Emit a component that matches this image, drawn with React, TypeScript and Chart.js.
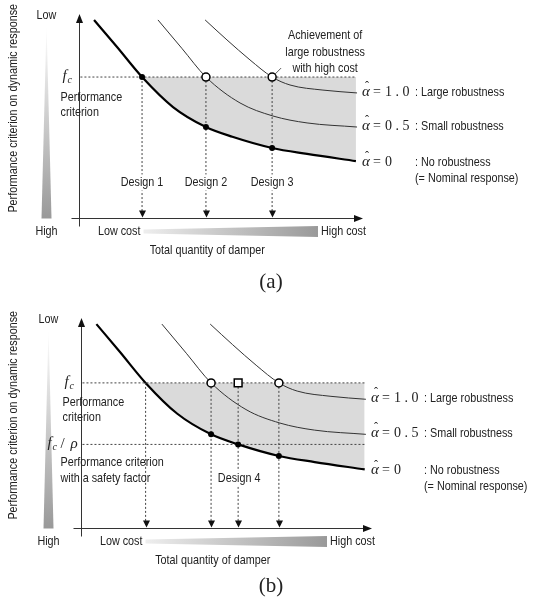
import React, { useEffect, useRef } from "react";
import { Chart, registerables } from "chart.js";
Chart.register(...registerables);

// x = total quantity of damper (relative 0–100), y = level on the response axis (relative 0–100)
const NOMINAL_X = [5.3, 13.4, 22.2, 33.1, 44.7, 54.0, 68.0, 80.3, 97.5];
const NOMINAL_Y = [97.1, 83.8, 69.1, 54.4, 44.6, 39.8, 34.3, 31.4, 27.9];
const SMALL_X = [27.8, 36.2, 44.7, 56.7, 68.3, 80.3, 97.9];
const SMALL_Y = [97.1, 83.2, 69.1, 56.4, 50.0, 46.6, 44.6];
const LARGE_X = [44.4, 52.1, 60.2, 68.0, 74.3, 85.9, 97.9];
const LARGE_Y = [97.1, 87.3, 77.5, 69.1, 65.2, 62.7, 61.3];
const FC = 69.1;
const FC_RHO = 39.8;
const CURVE_END = 97.5;

const DESIGN_A_X = [22.2, 44.7, 68.0];
const DESIGN_A_LABELS = ["Design 1", "Design 2", "Design 3"];
const FILLED_A_X = [22.2, 44.7, 68.0];
const FILLED_A_Y = [69.1, 44.6, 34.3];
const OPEN_A_X = [44.7, 68.0];

const ARROWS_B_X = [22.2, 44.7, 54.0, 68.0];
const FILLED_B_X = [44.7, 54.0, 68.0];
const FILLED_B_Y = [44.6, 39.8, 34.3];
const OPEN_B_X = [44.7, 68.0];
const SQUARE_B_X = [54.0];
const DESIGN_B_X = 54.0;
const DESIGN_B_LABEL = "Design 4";

const ALPHA_VALUES = ["1 . 0", "0 . 5", "0"];
const ALPHA_TEXTS = [": Large robustness", ": Small robustness", ": No robustness"];

const SANS = '"Liberation Sans", Arial, sans-serif';
const SERIF = '"Liberation Serif", "Times New Roman", serif';
const SX = 0.83;
const INK = "#222";

const PANELS: any = {
  a: { height: 300, padding: { left: 79, right: 173, top: 14, bottom: 82 }, caption: "(a)" },
  b: { height: 304, padding: { left: 81, right: 164, top: 18, bottom: 76 }, caption: "(b)" },
};

function text(
  ctx: CanvasRenderingContext2D,
  s: string,
  x: number,
  y: number,
  align: "left" | "center" | "right" = "left",
  font = `13px ${SANS}`,
  sx = SX,
  bg = false
) {
  ctx.save();
  ctx.font = font;
  ctx.textBaseline = "middle";
  ctx.textAlign = "left";
  const w = ctx.measureText(s).width * sx;
  const left = align === "left" ? x : align === "center" ? x - w / 2 : x - w;
  if (bg) {
    ctx.fillStyle = "#fff";
    ctx.fillRect(left - 1, y - 8, w + 2, 16);
  }
  ctx.translate(left, y);
  ctx.scale(sx, 1);
  ctx.fillStyle = INK;
  ctx.fillText(s, 0, 0);
  ctx.restore();
  return w;
}

function tri(ctx: CanvasRenderingContext2D, pts: number[][]) {
  ctx.beginPath();
  ctx.moveTo(pts[0][0], pts[0][1]);
  for (let i = 1; i < pts.length; i++) ctx.lineTo(pts[i][0], pts[i][1]);
  ctx.closePath();
  ctx.fill();
}

function fcLabel(ctx: CanvasRenderingContext2D, x: number, y: number) {
  ctx.save();
  ctx.fillStyle = INK;
  ctx.textBaseline = "middle";
  ctx.font = `italic 15px ${SERIF}`;
  ctx.fillText("f", x, y - 1);
  ctx.font = `italic 10px ${SERIF}`;
  ctx.fillText("c", x + 5, y + 3);
  ctx.restore();
}

function alphaLabel(ctx: CanvasRenderingContext2D, x: number, y: number, v: string) {
  ctx.save();
  ctx.fillStyle = INK;
  ctx.textBaseline = "middle";
  ctx.font = `italic 15px ${SERIF}`;
  ctx.fillText("\u03B1", x, y);
  const aw = ctx.measureText("\u03B1").width;
  ctx.font = `12px ${SERIF}`;
  ctx.textAlign = "center";
  ctx.fillText("\u02C6", x + aw / 2 + 1, y - 5);
  ctx.textAlign = "left";
  ctx.font = `14px ${SERIF}`;
  ctx.fillText("=", x + 11, y);
  ctx.fillText(v, x + 23, y);
  ctx.restore();
}

function makeAnnotations(kind: "a" | "b") {
  return {
    id: "annot_" + kind,
    afterDraw(chart: any) {
      const ctx: CanvasRenderingContext2D = chart.ctx;
      const xs = chart.scales.x;
      const ys = chart.scales.y;
      const X = (v: number) => xs.getPixelForValue(v);
      const Y = (v: number) => ys.getPixelForValue(v);
      const x0 = Math.round(X(0)) + 0.5;
      const xr = X(100);
      const yb = Math.round(Y(0)) + 0.5;
      const yt = Y(100);
      const W = chart.width;
      const H = chart.height;

      ctx.save();
      // axes
      ctx.strokeStyle = "#333";
      ctx.lineWidth = 1;
      ctx.beginPath();
      ctx.moveTo(x0, yb + 8);
      ctx.lineTo(x0, yt + 4);
      ctx.moveTo(x0 - 8, yb);
      ctx.lineTo(xr - 4, yb);
      ctx.stroke();
      ctx.fillStyle = "#111";
      tri(ctx, [[x0, yt], [x0 - 3.5, yt + 9], [x0 + 3.5, yt + 9]]);
      tri(ctx, [[xr, yb], [xr - 9, yb - 3.5], [xr - 9, yb + 3.5]]);

      // arrowheads of design lines
      const arrows = kind === "a" ? DESIGN_A_X : ARROWS_B_X;
      arrows.forEach((d) => {
        const px = Math.round(X(d)) + 0.5;
        tri(ctx, [[px, yb - 1], [px - 3.5, yb - 8], [px + 3.5, yb - 8]]);
      });

      // left wedge
      const wx = x0 - 33;
      const g = ctx.createLinearGradient(0, yt + 10, 0, yb);
      g.addColorStop(0, "#ffffff");
      g.addColorStop(1, "#999999");
      ctx.fillStyle = g;
      tri(ctx, [[wx, yt + 10], [wx + 5, yb], [wx - 5, yb]]);
      text(ctx, "Low", wx, yt + 1, "center");
      text(ctx, "High", wx, yb + 13, "center");

      // rotated axis title
      ctx.save();
      ctx.translate(13, (yt + yb) / 2 - 8);
      ctx.rotate(-Math.PI / 2);
      text(ctx, "Performance criterion on dynamic response", 0, 0, "center");
      ctx.restore();

      // bottom cost wedge
      const bl = x0 + 64;
      const br = xr - 45;
      const bc = yb + 13;
      const hg = ctx.createLinearGradient(bl, 0, br, 0);
      hg.addColorStop(0, "#eeeeee");
      hg.addColorStop(1, "#999999");
      ctx.fillStyle = hg;
      tri(ctx, [[bl, bc - 2], [br, bc - 5.5], [br, bc + 5.5], [bl, bc + 2]]);
      text(ctx, "Low cost", bl - 3, bc, "right");
      text(ctx, "High cost", br + 3, bc, "left");
      text(ctx, "Total quantity of damper", (x0 + xr) / 2 - 14, yb + 32, "center");

      // caption
      text(ctx, PANELS[kind].caption, W / 2 + 3, H - 18, "center", `21px ${SERIF}`, 1);

      // right-hand labels
      const ends = [LARGE_Y[LARGE_Y.length - 1], SMALL_Y[SMALL_Y.length - 1], NOMINAL_Y[NOMINAL_Y.length - 1]];
      ends.forEach((e, i) => {
        const py = Y(e) + (i === 2 ? 1 : -1);
        alphaLabel(ctx, xr - 1, py, ALPHA_VALUES[i]);
        text(ctx, ALPHA_TEXTS[i], xr + 52, py, "left");
        if (i === 2) text(ctx, "(= Nominal response)", xr + 52, py + 16, "left");
      });

      // criterion labels
      const fcy = Y(FC);
      fcLabel(ctx, x0 - 17, fcy);
      text(ctx, "Performance", x0 - 19, fcy + 20, "left");
      text(ctx, "criterion", x0 - 19, fcy + 35, "left");

      if (kind === "a") {
        DESIGN_A_X.forEach((d, i) => {
          text(ctx, DESIGN_A_LABELS[i], X(d), yb - 36, "center", `13px ${SANS}`, SX, true);
        });
        const ax = X(68.0);
        text(ctx, "Achievement of", ax + 53, yt + 21, "center");
        text(ctx, "large robustness", ax + 53, yt + 38, "center");
        text(ctx, "with high cost", ax + 53, yt + 54, "center");
        ctx.strokeStyle = "#333";
        ctx.lineWidth = 0.8;
        ctx.beginPath();
        ctx.moveTo(ax + 3, fcy - 3);
        ctx.lineTo(ax + 9, fcy - 9);
        ctx.stroke();
      } else {
        const ry = Y(FC_RHO);
        ctx.save();
        ctx.fillStyle = INK;
        ctx.textBaseline = "middle";
        ctx.font = `italic 15px ${SERIF}`;
        ctx.fillText("f", x0 - 34, ry - 1);
        ctx.font = `italic 10px ${SERIF}`;
        ctx.fillText("c", x0 - 29, ry + 3);
        ctx.font = `15px ${SERIF}`;
        ctx.fillText("/", x0 - 21, ry);
        ctx.font = `italic 15px ${SERIF}`;
        ctx.fillText("\u03C1", x0 - 11, ry);
        ctx.restore();
        text(ctx, "Performance criterion", x0 - 21, ry + 18, "left");
        text(ctx, "with a safety factor", x0 - 21, ry + 34, "left");
        text(ctx, DESIGN_B_LABEL, X(DESIGN_B_X) + 1, yb - 50, "center", `13px ${SANS}`, SX, true);
      }
      ctx.restore();
    },
  };
}

const pts = (xa: number[], ya: number[]) => xa.map((x, i) => ({ x, y: ya[i] }));
const dashed = (data: any[]) => ({
  data,
  borderColor: "#444",
  borderWidth: 1,
  borderDash: [2, 2],
  pointRadius: 0,
  fill: false,
  order: 5,
});

function buildDatasets(kind: "a" | "b") {
  const ds: any[] = [
    {
      data: pts(NOMINAL_X, NOMINAL_Y),
      borderColor: "#000",
      borderWidth: 2.2,
      pointRadius: 0,
      cubicInterpolationMode: "monotone",
      fill: { target: { value: FC }, above: "rgba(0,0,0,0)", below: "#dadada" },
      order: 10,
    },
    {
      data: pts(SMALL_X, SMALL_Y),
      borderColor: "#333",
      borderWidth: 1,
      pointRadius: 0,
      cubicInterpolationMode: "monotone",
      fill: false,
      order: 9,
    },
    {
      data: pts(LARGE_X, LARGE_Y),
      borderColor: "#333",
      borderWidth: 1,
      pointRadius: 0,
      cubicInterpolationMode: "monotone",
      fill: false,
      order: 9,
    },
    dashed([{ x: 0.5, y: FC }, { x: CURVE_END, y: FC }]),
  ];
  const verticals = kind === "a" ? DESIGN_A_X : ARROWS_B_X;
  verticals.forEach((d) => ds.push(dashed([{ x: d, y: FC }, { x: d, y: 1.5 }])));
  if (kind === "b") ds.push(dashed([{ x: 0.5, y: FC_RHO }, { x: CURVE_END, y: FC_RHO }]));

  const filled = kind === "a" ? pts(FILLED_A_X, FILLED_A_Y) : pts(FILLED_B_X, FILLED_B_Y);
  ds.push({
    data: filled,
    showLine: false,
    pointRadius: 3,
    pointBackgroundColor: "#000",
    pointBorderWidth: 0,
    order: 1,
  });
  const open = (kind === "a" ? OPEN_A_X : OPEN_B_X).map((x) => ({ x, y: FC }));
  ds.push({
    data: open,
    showLine: false,
    pointRadius: 4,
    pointBackgroundColor: "#fff",
    pointBorderColor: "#000",
    pointBorderWidth: 1.5,
    order: 0,
  });
  if (kind === "b") {
    ds.push({
      data: SQUARE_B_X.map((x) => ({ x, y: FC })),
      showLine: false,
      pointStyle: "rect",
      pointRadius: 5.5,
      pointBackgroundColor: "#fff",
      pointBorderColor: "#000",
      pointBorderWidth: 1.5,
      order: 0,
    });
  }
  return ds;
}

function Panel({ kind }: { kind: "a" | "b" }) {
  const ref = useRef<HTMLCanvasElement | null>(null);
  useEffect(() => {
    if (!ref.current) return;
    const chart = new Chart(ref.current, {
      type: "line",
      data: { datasets: buildDatasets(kind) },
      options: {
        responsive: false,
        animation: false,
        events: [],
        layout: { padding: PANELS[kind].padding },
        scales: {
          x: { type: "linear", min: 0, max: 100, display: false },
          y: { type: "linear", min: 0, max: 100, display: false },
        },
        plugins: {
          legend: { display: false },
          tooltip: { enabled: false },
          filler: { drawTime: "beforeDatasetsDraw" },
        } as any,
      },
      plugins: [makeAnnotations(kind)],
    } as any);
    return () => chart.destroy();
  }, [kind]);
  return (
    <canvas
      ref={ref}
      width={536}
      height={PANELS[kind].height}
      style={{ display: "block", width: 536, height: PANELS[kind].height }}
    />
  );
}

export default function App() {
  return (
    <div style={{ position: "absolute", left: 0, top: 0, width: 536, height: 604, background: "#fff" }}>
      <Panel kind="a" />
      <Panel kind="b" />
    </div>
  );
}
